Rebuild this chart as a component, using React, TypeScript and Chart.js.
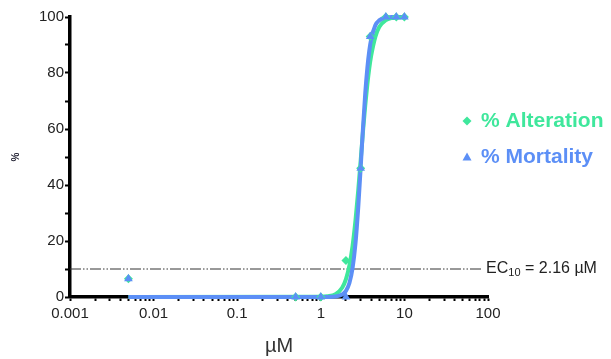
import React, { useEffect, useRef } from 'react';
import { Chart, registerables } from 'chart.js';

Chart.register(...registerables);

// Measured concentrations (µM) and responses (%)
const concentrations = [0.005, 0.5, 1, 2, 3, 3.9, 6, 8, 10];
const alterationPct = [6.5, 0, 0, 13, 46, 93, 100, 100, 100];
const mortalityPct = [6.5, 0, 0, 0, 46, 93, 100, 100, 100];

// Fitted dose-response curves
const fitConc = [0.005, 1, 1.2, 1.5, 1.8, 2, 2.2, 2.4, 2.6, 2.8, 3, 3.2, 3.4, 3.6, 3.8, 4, 4.5, 5, 6, 7, 8, 10];
const alterationFit = [0, 0.1, 0.25, 1.0, 3.3, 6.4, 11.3, 18.3, 27.4, 37.9, 48.9, 59.3, 68.4, 75.8, 81.7, 86.1, 93, 96.4, 98.9, 99.6, 99.8, 100];
const mortalityFit = [0, 0, 0.02, 0.17, 0.9, 2.2, 5.0, 10.4, 19.2, 31.7, 46.3, 60.6, 72.7, 81.6, 87.9, 92, 97.1, 98.8, 99.8, 100, 100, 100];

// EC10 reference line
const ec10Level = 10;
const ec10Span = [0.001, 85];
const ec10Text = { main: 'EC', sub: '10', rest: ' = 2.16 µM' };

// Axes
const xDecades = [0.001, 0.01, 0.1, 1, 10, 100];
const xDecadeLabels = ['0.001', '0.01', '0.1', '1', '10', '100'];
const yLabelled = [0, 20, 40, 60, 80, 100];

const seriesNames = ['% Alteration', '% Mortality'];
const GREEN = '#3fe79c';
const BLUE = '#5c8ff6';
const FONT = "'Liberation Sans', Arial, sans-serif";

const toPoints = (xs: number[], ys: number[]) => xs.map((x, i) => ({ x, y: ys[i] }));

const overlayPlugin = {
  id: 'overlay',
  afterDraw(chart: any) {
    const { ctx, chartArea, scales } = chart;
    const xs = scales.x;
    const ys = scales.y;
    ctx.save();

    // EC10 label at the end of the dashed line
    let tx = xs.getPixelForValue(ec10Span[1]) + 4;
    const ty = ys.getPixelForValue(ec10Level);
    ctx.fillStyle = '#222';
    ctx.textBaseline = 'middle';
    ctx.textAlign = 'left';
    ctx.font = `16px ${FONT}`;
    ctx.fillText(ec10Text.main, tx, ty);
    tx += ctx.measureText(ec10Text.main).width;
    ctx.font = `11px ${FONT}`;
    ctx.fillText(ec10Text.sub, tx, ty + 4);
    tx += ctx.measureText(ec10Text.sub).width;
    ctx.font = `16px ${FONT}`;
    ctx.fillText(ec10Text.rest, tx, ty);

    // Legend
    const mx = chartArea.right - 21;
    const rows = [chartArea.top + 104, chartArea.top + 140];
    const colors = [GREEN, BLUE];
    rows.forEach((ry, i) => {
      ctx.fillStyle = colors[i];
      ctx.beginPath();
      if (i === 0) {
        ctx.moveTo(mx, ry - 4.5);
        ctx.lineTo(mx + 4.5, ry);
        ctx.lineTo(mx, ry + 4.5);
        ctx.lineTo(mx - 4.5, ry);
      } else {
        ctx.moveTo(mx, ry - 4.5);
        ctx.lineTo(mx + 4.5, ry + 3.5);
        ctx.lineTo(mx - 4.5, ry + 3.5);
      }
      ctx.closePath();
      ctx.fill();
      ctx.font = `bold 21px ${FONT}`;
      ctx.textBaseline = 'middle';
      ctx.fillText(seriesNames[i], mx + 14, ry);
    });
    ctx.restore();
  },
};

export default function App() {
  const canvasRef = useRef<HTMLCanvasElement | null>(null);

  useEffect(() => {
    if (!canvasRef.current) return;
    const chart = new Chart(canvasRef.current, {
      type: 'line',
      data: {
        datasets: [
          {
            label: seriesNames[1],
            data: toPoints(concentrations, mortalityPct),
            showLine: false,
            pointStyle: 'triangle',
            pointRadius: 5,
            backgroundColor: BLUE,
            borderColor: BLUE,
            borderWidth: 0,
            clip: false,
          },
          {
            label: seriesNames[0],
            data: toPoints(concentrations, alterationPct),
            showLine: false,
            pointStyle: 'rectRot',
            pointRadius: 4.5,
            backgroundColor: GREEN,
            borderColor: GREEN,
            borderWidth: 0,
            clip: false,
          },
          {
            label: 'mortality fit',
            data: toPoints(fitConc, mortalityFit),
            borderColor: BLUE,
            borderWidth: 4,
            pointRadius: 0,
            cubicInterpolationMode: 'monotone',
            fill: false,
            clip: false,
          },
          {
            label: 'alteration fit',
            data: toPoints(fitConc, alterationFit),
            borderColor: GREEN,
            borderWidth: 4,
            pointRadius: 0,
            cubicInterpolationMode: 'monotone',
            fill: false,
            clip: false,
          },
          {
            label: 'EC10',
            data: ec10Span.map((x) => ({ x, y: ec10Level })),
            borderColor: '#333',
            borderWidth: 1,
            borderDash: [11, 2, 1.5, 2, 1.5, 2],
            pointRadius: 0,
            fill: false,
          },
        ],
      },
      options: {
        animation: false,
        responsive: false,
        layout: { padding: { top: 17, right: 123, left: 0, bottom: 0 } },
        plugins: { legend: { display: false }, tooltip: { enabled: false } },
        scales: {
          x: {
            type: 'logarithmic',
            min: 0.001,
            max: 100,
            afterFit: (s: any) => { s.height = 62; },
            afterBuildTicks: (s: any) => {
              const t: any[] = [];
              xDecades.forEach((d, i) => {
                t.push({ value: d, major: true });
                if (i < xDecades.length - 1) {
                  for (let k = 2; k <= 9; k++) t.push({ value: d * k, major: false });
                }
              });
              s.ticks = t;
            },
            border: { display: true, color: '#000', width: 3.5 },
            grid: {
              display: true,
              drawOnChartArea: false,
              drawTicks: true,
              tickLength: 4,
              tickColor: '#000',
              tickWidth: 2,
            },
            ticks: {
              autoSkip: false,
              maxRotation: 0,
              padding: 4,
              color: '#222',
              font: { family: FONT, size: 15 },
              callback: (v: any) => {
                const i = xDecades.findIndex((d) => Math.abs(d - Number(v)) < d * 1e-6);
                return i >= 0 ? xDecadeLabels[i] : '';
              },
            },
            title: {
              display: true,
              text: 'µM',
              color: '#333',
              font: { family: FONT, size: 20 },
              padding: { top: 0, bottom: 1 },
            },
          },
          y: {
            type: 'linear',
            min: 0,
            max: 100,
            afterFit: (s: any) => { s.width = 70; },
            border: { display: true, color: '#000', width: 3.5 },
            grid: {
              display: true,
              drawOnChartArea: false,
              drawTicks: true,
              tickLength: 5,
              tickColor: '#000',
              tickWidth: 2,
            },
            ticks: {
              stepSize: 10,
              padding: 1,
              color: '#222',
              font: { family: FONT, size: 15 },
              callback: (v: any) => (yLabelled.includes(Number(v)) ? String(v) : ''),
            },
            title: {
              display: true,
              text: '%',
              color: '#223',
              font: { family: FONT, size: 10, weight: 'bold' },
              padding: { top: 10, bottom: 0 },
            },
          },
        },
      },
      plugins: [overlayPlugin],
    } as any);
    return () => chart.destroy();
  }, []);

  return (
    <div style={{ position: 'fixed', left: 0, top: 0, width: 611, height: 359, background: '#fff' }}>
      <canvas ref={canvasRef} width={611} height={359} style={{ display: 'block', width: 611, height: 359 }} />
    </div>
  );
}
